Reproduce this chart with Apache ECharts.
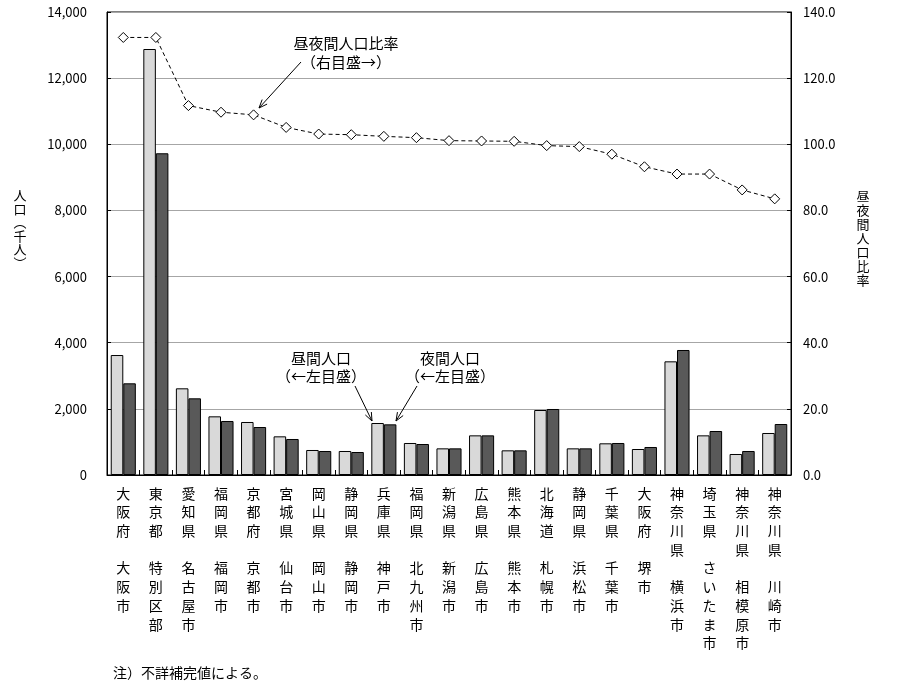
<!DOCTYPE html>
<html><head><meta charset="utf-8">
<script src="https://cdn.jsdelivr.net/npm/echarts/dist/echarts.min.js"></script>
<style>html,body{margin:0;padding:0;background:#fff}#c{width:900px;height:693px}</style>
</head><body><div id="c"></div>
<script>
const prefectures = ['大阪府','東京都','愛知県','福岡県','京都府','宮城県','岡山県','静岡県','兵庫県','福岡県','新潟県','広島県','熊本県','北海道','静岡県','千葉県','大阪府','神奈川県','埼玉県','神奈川県','神奈川県'];
const cities = ['大阪市','特別区部','名古屋市','福岡市','京都市','仙台市','岡山市','静岡市','神戸市','北九州市','新潟市','広島市','熊本市','札幌市','浜松市','千葉市','堺市','横浜市','さいたま市','相模原市','川崎市'];
const daytimePop = [3628, 12881, 2621, 1774, 1603, 1169, 756, 726, 1572, 968, 806, 1199, 746, 1965, 806, 958, 786, 3437, 1199, 635, 1270];
const nighttimePop = [2772, 9728, 2318, 1633, 1451, 1089, 726, 695, 1532, 937, 806, 1199, 746, 1996, 806, 968, 847, 3780, 1330, 726, 1542];
const dayNightRatio = [132.3, 132.3, 111.7, 109.7, 108.9, 105.1, 103.1, 102.9, 102.4, 102.0, 101.1, 101.0, 100.9, 99.6, 99.3, 97.0, 93.2, 91.0, 91.0, 86.2, 83.5];
const leftAxis = {min: 0, max: 14000, interval: 2000};
const rightAxis = {min: 0, max: 140, interval: 20};

const FONT = "'Noto Sans CJK JP', 'Noto Sans CJK SC', sans-serif";
const categories = prefectures.map((p, i) => p.split('').join('\n') + '\n\n' + cities[i].split('').join('\n'));

function arrow(x1, y1, x2, y2) {
  const a = Math.atan2(y2 - y1, x2 - x1), L = 9, s = 0.38;
  return [
    {type: 'line', shape: {x1, y1, x2, y2}, style: {stroke: '#000', lineWidth: 1}, z: 100},
    {type: 'polyline', shape: {points: [[x2 - L * Math.cos(a - s), y2 - L * Math.sin(a - s)], [x2, y2], [x2 - L * Math.cos(a + s), y2 - L * Math.sin(a + s)]]},
     style: {stroke: '#000', lineWidth: 1, fill: null}, z: 100}
  ];
}
function txt(text, x, y, size) {
  return {type: 'text', z: 100, style: {text, x, y, fill: '#000', font: (size || 14) + 'px ' + FONT, textAlign: 'center', verticalAlign: 'middle', lineHeight: 14}};
}

const chart = echarts.init(document.getElementById('c'), null, {renderer: 'canvas'});
chart.setOption({
  animation: false,
  backgroundColor: '#fff',
  textStyle: {fontFamily: FONT},
  grid: {left: 107, right: 109, top: 12, bottom: 218, show: true, borderColor: '#000', borderWidth: 1, outerBoundsMode: 'none'},
  xAxis: {
    type: 'category', data: categories, boundaryGap: true,
    axisLine: {lineStyle: {color: '#000', width: 1}},
    axisTick: {show: true, inside: true, length: 5, alignWithLabel: false, lineStyle: {color: '#000'}},
    axisLabel: {interval: 0, fontSize: 14, lineHeight: 18.7, margin: 9, color: '#000', fontFamily: FONT, verticalAlign: 'top'}
  },
  yAxis: [
    {type: 'value', min: leftAxis.min, max: leftAxis.max, interval: leftAxis.interval,
     axisLine: {show: true, lineStyle: {color: '#000'}},
     axisTick: {show: true, inside: true, length: 4, lineStyle: {color: '#000'}},
     splitLine: {show: true, lineStyle: {color: '#a6a6a6', width: 1}},
     axisLabel: {margin: 20, fontSize: 13, color: '#000', fontFamily: FONT, formatter: v => v.toLocaleString('en-US')}},
    {type: 'value', min: rightAxis.min, max: rightAxis.max, interval: rightAxis.interval,
     axisLine: {show: true, lineStyle: {color: '#000'}},
     axisTick: {show: true, inside: true, length: 4, lineStyle: {color: '#000'}},
     splitLine: {show: false},
     axisLabel: {margin: 12, fontSize: 13, color: '#000', fontFamily: FONT, formatter: v => v.toFixed(1)}}
  ],
  series: [
    {name: '昼間人口', type: 'bar', data: daytimePop, barGap: '0%', barCategoryGap: '23%',
     itemStyle: {color: '#d9d9d9', borderColor: '#000', borderWidth: 1}},
    {name: '夜間人口', type: 'bar', data: nighttimePop, barGap: '0%', barCategoryGap: '23%',
     itemStyle: {color: '#595959', borderColor: '#000', borderWidth: 1}},
    {name: '昼夜間人口比率', type: 'line', yAxisIndex: 1, data: dayNightRatio, z: 10,
     symbol: 'diamond', symbolSize: [10, 10], showAllSymbol: true,
     lineStyle: {color: '#000', width: 1, type: [4, 3]},
     itemStyle: {color: '#fff', borderColor: '#000', borderWidth: 1}}
  ],
  graphic: [
    txt('昼夜間人口比率', 346, 43, 15),
    txt('（右目盛→）', 346, 62, 15),
    ...arrow(301, 62, 259, 108),
    txt('昼間人口', 321, 358, 15),
    txt('（←左目盛）', 321, 376, 15),
    ...arrow(355, 386, 372, 421),
    txt('夜間人口', 450, 358, 15),
    txt('（←左目盛）', 450, 376, 15),
    ...arrow(417, 386, 396, 421),
    {type: 'text', z: 100, style: {text: '人\n口\n︵\n千\n人\n︶', x: 20, y: 229, fill: '#000', font: '13px ' + FONT, textAlign: 'center', verticalAlign: 'middle', lineHeight: 13.5}},
    {type: 'text', z: 100, style: {text: '昼\n夜\n間\n人\n口\n比\n率', x: 863, y: 238, fill: '#000', font: '13px ' + FONT, textAlign: 'center', verticalAlign: 'middle', lineHeight: 14}},
    {type: 'text', z: 100, style: {text: '注）不詳補完値による。', x: 113, y: 673, fill: '#000', font: '14px ' + FONT, textAlign: 'left', verticalAlign: 'middle'}}
  ]
});
</script></body></html>
